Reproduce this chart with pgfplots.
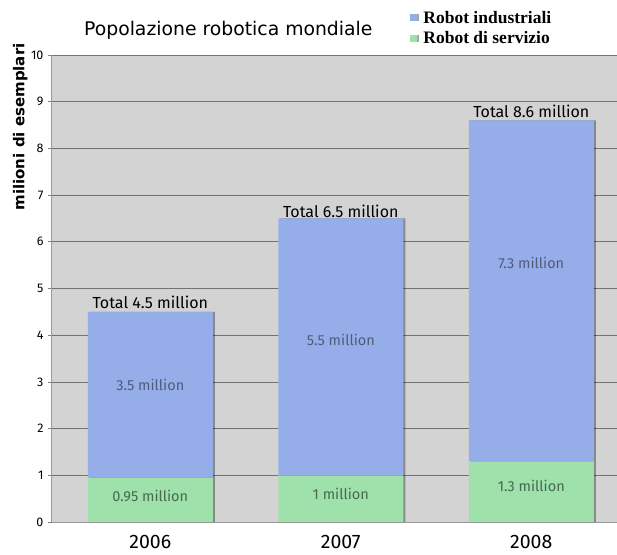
\documentclass[border=0pt]{standalone}
\usepackage{fontspec}
\setmainfont{Fira Sans}
\newfontfamily\titlefont{DejaVu Sans}
\newfontfamily\legfont{Liberation Serif}
\usepackage{pgfplots}
\pgfplotsset{compat=1.18}
\usetikzlibrary{shadows}

\definecolor{indblue}{RGB}{149,173,233}
\definecolor{servgreen}{RGB}{158,225,170}
\definecolor{bggray}{RGB}{211,211,211}
\definecolor{gridgray}{RGB}{115,115,115}
\definecolor{inkslate}{RGB}{80,92,122}
\definecolor{inkgreen}{RGB}{70,105,80}

\begin{document}
\begin{tikzpicture}
\begin{axis}[
  at={(0,0)}, anchor=south west,
  scale only axis, width=565pt, height=467pt,
  ybar stacked, bar width=125pt,
  xmin=-0.516, xmax=2.45, ymin=0, ymax=10,
  xtick={0,1,2}, xticklabels={2006,2007,2008},
  x tick style={draw=none},
  extra x ticks={0.5,1.5}, extra x tick labels={},
  extra x tick style={tick style={draw=gray, line width=0.8pt}},
  ytick={0,...,10},
  tick align=outside, major tick length=4pt,
  y tick style={draw=gray, line width=0.8pt},
  axis x line*=bottom, axis y line*=left,
  axis line style={draw=gray!80, line width=1pt},
  ymajorgrids, grid style={draw=gridgray, line width=0.8pt},
  axis background/.style={fill=bggray},
  /pgf/number format/assume math mode=true,
  yticklabel style={font=\fontsize{12.5}{14}\selectfont, xshift=-1pt},
  xticklabel style={font=\fontsize{19.5}{22}\selectfont, yshift=-6pt},
  ylabel={milioni di esemplari},
  ylabel style={font=\titlefont\bfseries\fontsize{15}{17}\selectfont,
    at={(axis description cs:-0.056,0.846)}, anchor=center},
  title={Popolazione robotica mondiale},
  title style={font=\titlefont\fontsize{18.8}{22}\selectfont,
    at={(axis description cs:0.312,1.041)}, anchor=center},
  reverse legend,
  legend style={at={(axis description cs:0.634,1.099)}, anchor=north west,
    draw=none, fill=none, font=\legfont\bfseries\fontsize{17.5}{19}\selectfont,
    row sep=3pt, inner sep=0pt,
    /tikz/every odd column/.append style={column sep=4pt}},
  legend cell align=left,
  legend image code/.code={\fill[#1] (0pt,-3.5pt) rectangle (7pt,3.5pt);},
]
\addplot[fill=servgreen, draw=none,
  drop shadow={shadow xshift=2pt, shadow yshift=0pt, fill=black, opacity=0.35}]
  coordinates {(0,0.95) (1,1.0) (2,1.3)};
\addlegendentry{Robot di servizio}
\addplot[fill=indblue, draw=none,
  drop shadow={shadow xshift=2pt, shadow yshift=0pt, fill=black, opacity=0.35}]
  coordinates {(0,3.55) (1,5.5) (2,7.3)};
\addlegendentry{Robot industriali}

\coordinate (t0) at (axis cs:0,4.71);
\coordinate (t1) at (axis cs:1,6.66);
\coordinate (t2) at (axis cs:2,8.80);
\coordinate (b0) at (axis cs:0,2.93);
\coordinate (b1) at (axis cs:1,3.90);
\coordinate (b2) at (axis cs:2,5.55);
\coordinate (g0) at (axis cs:0,0.56);
\coordinate (g1) at (axis cs:1,0.60);
\coordinate (g2) at (axis cs:2,0.77);
\end{axis}
\node[font=\fontsize{16}{18}\selectfont] at (t0) {Total 4.5 million};
\node[font=\fontsize{16}{18}\selectfont] at (t1) {Total 6.5 million};
\node[font=\fontsize{16}{18}\selectfont] at (t2) {Total 8.6 million};
\node[font=\fontsize{14.5}{16}\selectfont, text=inkslate] at (b0) {3.5 million};
\node[font=\fontsize{14.5}{16}\selectfont, text=inkslate] at (b1) {5.5 million};
\node[font=\fontsize{14.5}{16}\selectfont, text=inkslate] at (b2) {7.3 million};
\node[font=\fontsize{14.5}{16}\selectfont, text=inkgreen] at (g0) {0.95 million};
\node[font=\fontsize{14.5}{16}\selectfont, text=inkgreen] at (g1) {1 million};
\node[font=\fontsize{14.5}{16}\selectfont, text=inkgreen] at (g2) {1.3 million};
\pgfresetboundingbox
\path[use as bounding box] (-52pt,-32pt) rectangle (565pt,522pt);
\end{tikzpicture}
\end{document}
